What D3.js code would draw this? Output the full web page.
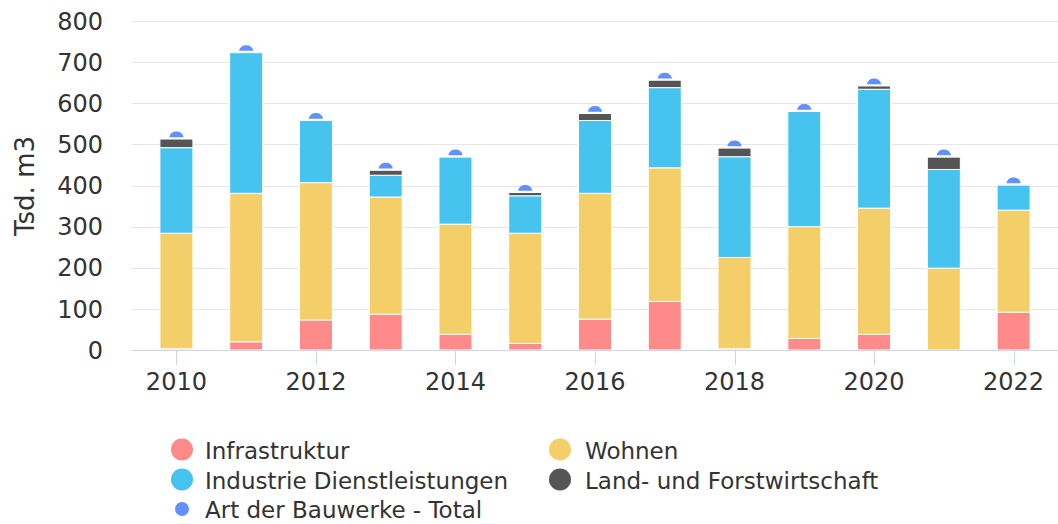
<!DOCTYPE html>
<html><head><meta charset="utf-8">
<script src="https://cdn.jsdelivr.net/npm/d3@7"></script>
<style>
html,body{margin:0;padding:0;background:#fff;}
svg{display:block;font-family:"DejaVu Sans",sans-serif;}
</style></head>
<body><svg id="c" width="1058" height="524"></svg>
<script>
const years = [2010,2011,2012,2013,2014,2015,2016,2017,2018,2019,2020,2021,2022];
const infrastruktur = [3, 20, 73, 87, 38, 16, 75, 118, 3, 28, 38, 0, 92];
const wohnen        = [281, 361, 334, 285, 268, 268, 306, 325, 222, 272, 307, 199, 248];
const industrie     = [208, 342, 151, 53, 163, 91, 177, 195, 245, 280, 289, 240, 61];
const landForst     = [21, 0, 0, 12, 0, 8, 17, 18, 21, 0, 8, 30, 0];
const total         = [513, 723, 558, 437, 469, 383, 575, 656, 491, 580, 642, 469, 401];
const yTicks = [0,100,200,300,400,500,600,700,800];
const xTickYears = [2010,2012,2014,2016,2018,2020,2022];

const seriesNames = ["Infrastruktur","Wohnen","Industrie Dienstleistungen","Land- und Forstwirtschaft"];
const seriesData = [infrastruktur, wohnen, industrie, landForst];
const colors = ["#FF8A8A","#F4CF69","#47C3F0","#555555"];
const totalName = "Art der Bauwerke - Total";
const totalColor = "#6190FF";

(function(){
const svg = d3.select("#c");
const pLeft = 132, pRight = 1058, pTop = 21, pBottom = 350;

const x = d3.scaleBand().domain(years).range([pLeft, pRight]).paddingInner(0.527).paddingOuter(0.40);
const y = d3.scaleLinear().domain([0, 800]).range([pBottom, pTop]);

svg.append("g").selectAll("line").data(yTicks.filter(d=>d>0)).join("line")
  .attr("x1", pLeft).attr("x2", pRight)
  .attr("y1", d=>Math.round(y(d))+0.5).attr("y2", d=>Math.round(y(d))+0.5)
  .attr("stroke", "#e6e6e6").attr("stroke-width", 1);

svg.append("g").selectAll("text").data(yTicks).join("text")
  .attr("x", 103).attr("y", d=>y(d)).attr("dy", "0.36em")
  .attr("text-anchor", "end").attr("fill", "#333").attr("font-size", 24)
  .text(d=>d);

svg.append("text").attr("transform", `translate(34,186) rotate(-90)`)
  .attr("text-anchor","middle").attr("fill","#333").attr("font-size",26).text("Tsd. m3");

const gTot = svg.append("g");
years.forEach((yr,i)=>{
  const cx = x(yr) + x.bandwidth()/2, cy = y(total[i]);
  const r = 7.5, d = 1.8, th = Math.acos(d/r);
  const p = d3.path();
  p.arc(cx, cy, r, -Math.PI/2 - th, -Math.PI/2 + th);
  p.closePath();
  gTot.append("path").attr("d", p.toString()).attr("fill", totalColor);
});

const gBars = svg.append("g");
years.forEach((yr,i)=>{
  let base = 0;
  seriesData.forEach((s,k)=>{
    const v = s[i];
    if (v > 0) {
      gBars.append("rect")
        .attr("x", x(yr)).attr("width", x.bandwidth())
        .attr("y", y(base+v)).attr("height", y(base)-y(base+v))
        .attr("fill", colors[k]).attr("stroke", "#fff").attr("stroke-width", 1);
    }
    base += v;
  });
});

svg.append("line").attr("x1", pLeft).attr("x2", pRight).attr("y1", pBottom+0.5).attr("y2", pBottom+0.5)
  .attr("stroke","#ccd6eb").attr("stroke-width",1);
const gx = svg.append("g");
gx.selectAll("line").data(xTickYears).join("line")
  .attr("x1", d=>Math.round(x(d)+x.bandwidth()/2)+0.5).attr("x2", d=>Math.round(x(d)+x.bandwidth()/2)+0.5)
  .attr("y1", pBottom).attr("y2", pBottom+15).attr("stroke","#ccd6eb");
gx.selectAll("text").data(xTickYears).join("text")
  .attr("x", d=>x(d)+x.bandwidth()/2).attr("y", 390)
  .attr("text-anchor","middle").attr("fill","#333").attr("font-size",24).text(d=>d);

const legendItems = [
  {name: seriesNames[0], color: colors[0], r: 11, col: 0, row: 0},
  {name: seriesNames[1], color: colors[1], r: 11, col: 1, row: 0},
  {name: seriesNames[2], color: colors[2], r: 11, col: 0, row: 1},
  {name: seriesNames[3], color: colors[3], r: 11, col: 1, row: 1},
  {name: totalName, color: totalColor, r: 7, col: 0, row: 2}
];
const lg = svg.append("g");
const colX = [182, 560], textX = [205, 585], baseY = [458.5, 488.5, 518];
legendItems.forEach(it=>{
  lg.append("circle").attr("cx", colX[it.col]).attr("cy", baseY[it.row]-9).attr("r", it.r).attr("fill", it.color);
  lg.append("text").attr("x", textX[it.col]).attr("y", baseY[it.row])
    .attr("fill","#333").attr("font-size",23).text(it.name);
});
})();
</script></body></html>
